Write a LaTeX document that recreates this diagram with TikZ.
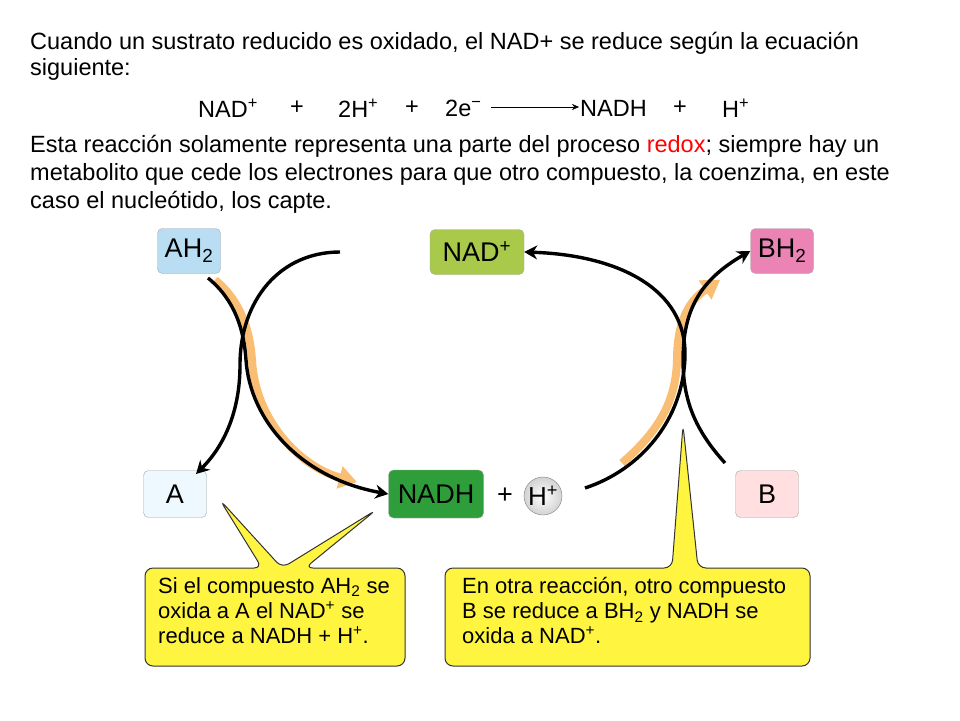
\documentclass[tikz,border=0pt]{standalone}
\usepackage{fontspec}
\setmainfont{Liberation Sans}
\usetikzlibrary{arrows.meta}
\definecolor{nadc}{HTML}{A9C94B}
\definecolor{nadhc}{HTML}{2E9E3A}
\definecolor{bhc}{HTML}{EC83B5}
\definecolor{ahc}{HTML}{B9DDF3}
\definecolor{orc}{HTML}{F9BE74}
\begin{document}
\begin{tikzpicture}[x=1pt,y=-1pt,
  box/.style={draw=gray!70,rounded corners=5pt,minimum width=63pt,minimum height=45pt,font=\fontsize{27}{29}\selectfont,inner sep=2pt},
  txt/.style={anchor=west,font=\fontsize{23.5}{27}\selectfont,inner sep=0pt},
  arr/.style={line width=3.4pt,-{Stealth[length=13pt,width=14pt]}},
  org/.style={line width=8pt,draw=orc,-{Triangle[length=18pt,width=22pt]}},
  callout/.style={draw=black!80,fill=yellow!75!white,line width=1pt,rounded corners=8pt},
  ctext/.style={anchor=north west,align=left,font=\fontsize{22}{25}\selectfont,inner sep=0pt}]
\useasboundingbox (0,0) rectangle (960,720);
\fill[white] (0,0) rectangle (960,720);
\node[txt] (l1) at (30,43) {Cuando un sustrato reducido es oxidado, el NAD+ se reduce según la ecuación};
\node[txt] (l2) at (30,69) {siguiente:};
\node[txt] (e1) at (198,108) {NAD\textsuperscript{+}};
\node[txt] (e2) at (290,108) {+};
\node[txt] (e3) at (338,108) {2H\textsuperscript{+}};
\node[txt] (e4) at (405,108) {+};
\node[txt] (e5) at (445,108) {2e\textsuperscript{−}};
\node[txt] (e6) at (580,108) {NADH};
\node[txt] (e7) at (673,108) {+};
\node[txt] (e8) at (722,108) {H\textsuperscript{+}};
\draw[-{Stealth[length=7pt,width=6pt]}] ([xshift=-1pt,yshift=1pt]e6.west) ++(-88,0) -- ([xshift=-1pt,yshift=1pt]e6.west);
\node[txt] (l3) at (30,146) {Esta reacción solamente representa una parte del proceso \textcolor{red}{redox}; siempre hay un};
\node[txt] (l4) at (30,174) {metabolito que cede los electrones para que otro compuesto, la coenzima, en este};
\node[txt] (l5) at (30,202) {caso el nucleótido, los capte.};

\node[box,fill=ahc] (ah2) at (189,251) {AH\textsubscript{2}};
\node[box,fill=nadc,minimum width=94pt] (nad) at (477,252) {NAD\textsuperscript{+}};
\node[box,fill=bhc] (bh2) at (782,251) {BH\textsubscript{2}};
\node[box,fill=cyan!7,minimum height=47pt] (a) at (175,494) {A};
\node[box,fill=nadhc,minimum width=95pt,minimum height=48pt] (nadh) at (436,494) {NADH};
\node[font=\fontsize{27}{29}\selectfont] (plus) at (505,496) {+};
\node[circle,draw=gray,shade,inner color=white,outer color=gray!35,minimum size=38pt,inner sep=0pt,font=\fontsize{26}{28}\selectfont] (h) at (543,496) {H\textsuperscript{+}};
\node[box,fill=pink!50,minimum height=47pt] (b) at (767,494) {B};

\coordinate (oA1) at (215,280);
\coordinate (oA2) at (357,482);
\coordinate (oB1) at (622,463);
\coordinate (oB2) at (720,280);
\draw[org] (oA1) .. controls (240,300) and (250,330) .. (252,360) .. controls (255,420) and (300,467) .. (oA2);
\draw[org] (oB1) .. controls (660,430) and (676,400) .. (677,360) .. controls (677,320) and (690,300) .. (oB2);

\coordinate (s1) at (340,252);
\coordinate (s2) at (208,278);
\coordinate (s3) at (585,488);
\coordinate (s4) at (725,463);
\draw[arr] (s1) .. controls (280,252) and (240,300) .. (240,365) .. controls (240,410) and (225,445) .. (196,474);
\draw[arr] (s2) .. controls (235,300) and (244,330) .. (246,360) .. controls (250,420) and (300,478) .. (nadh.west);
\draw[arr] (s3) .. controls (640,470) and (684,420) .. (685,355) .. controls (686,290) and (620,255) .. (nad.east);
\draw[arr] (s4) .. controls (695,430) and (683,400) .. (683,360) .. controls (683,310) and (700,280) .. (bh2.west);

\coordinate (pA) at (220,500);
\coordinate (pN) at (376,510);
\coordinate (pB) at (683,425);
\draw[callout] (145,568) -- (262,568) -- (pA) -- (282,568) -- (pN) -- (305,568) -- (405,568) -- (405,666) -- (145,666) -- cycle;
\draw[callout] (445,568) -- (672,568) -- (pB) -- (698,568) -- (810,568) -- (810,666) -- (445,666) -- cycle;
\node[ctext] (t1) at (158,577) {Si el compuesto AH\textsubscript{2} se\\oxida a A el NAD\textsuperscript{+} se\\reduce a NADH + H\textsuperscript{+}.};
\node[ctext] (t2) at (462,577) {En otra reacción, otro compuesto\\B se reduce a BH\textsubscript{2} y NADH se\\oxida a NAD\textsuperscript{+}.};
\end{tikzpicture}
\end{document}
